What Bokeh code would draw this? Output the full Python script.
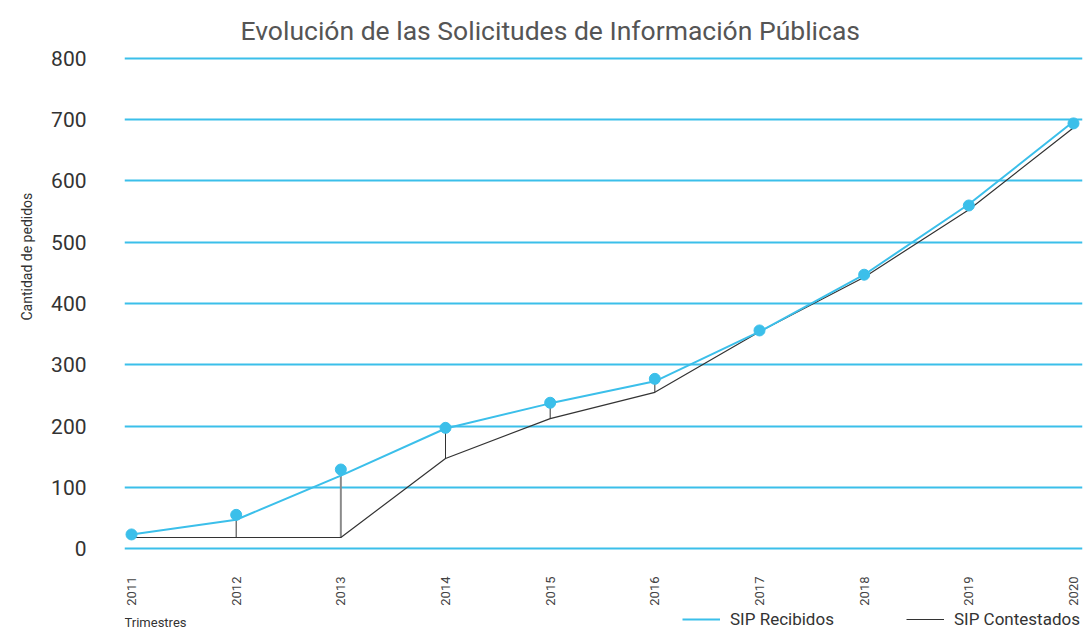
import math
from bokeh.plotting import figure
from bokeh.layouts import column
from bokeh.models import (ColumnDataSource, Range1d, FixedTicker, Title, Legend, LegendItem, Label)
from bokeh.embed import file_html
from bokeh.resources import INLINE

# ---- data ----
anios = ["2011", "2012", "2013", "2014", "2015", "2016", "2017", "2018", "2019", "2020"]
sip_recibidos = [23, 47, 119, 196, 237, 273, 354, 447, 562, 697]
sip_recibidos_puntos = [23, 55, 129, 197, 238, 277, 356, 447, 560, 694]
sip_contestados = [18, 18, 18, 147, 212, 255, 354, 443, 553, 687]
ticks_y = [0, 100, 200, 300, 400, 500, 600, 700, 800]

titulo = "Evolución de las Solicitudes de Información Públicas"
etiqueta_y = "Cantidad de pedidos"
etiqueta_x = "Trimestres"
series = ["SIP Recibidos", "SIP Contestados"]

# ---- styles ----
FONT = "Roboto"
BLUE = "#3bbfea"
DARK = "#333333"

idx = list(range(len(anios)))
src = ColumnDataSource(dict(x=idx, rec=sip_recibidos, recp=sip_recibidos_puntos,
                            con=sip_contestados,
                            seg_color=[DARK, DARK, "#8a8a8a", DARK, DARK, DARK, DARK, DARK, DARK, DARK],
                            seg_w=[1, 1, 2, 1, 1, 1, 1, 1, 1, 1]))

p = figure(width=1089, height=609, output_backend="svg", toolbar_location=None,
           x_range=Range1d(-0.067, 9.086), y_range=Range1d(-13, 813),
           min_border_left=124, min_border_right=7, min_border_top=50, min_border_bottom=53)
p.outline_line_color = None
p.background_fill_color = "white"
p.border_fill_color = "white"

p.title.text = titulo
p.title.align = "left"
p.title.offset = 116
p.title.text_font = FONT
p.title.text_font_size = "26.5px"
p.title.text_font_style = "normal"
p.title.text_color = "#555555"
p.title.standoff = 10

# axes
p.xaxis.ticker = FixedTicker(ticks=idx)
p.xaxis.major_label_overrides = {i: a for i, a in zip(idx, anios)}
p.xaxis.major_label_orientation = math.pi / 2
p.xaxis.axis_line_color = None
p.xaxis.major_tick_line_color = None
p.xaxis.minor_tick_line_color = None
p.xaxis.major_label_text_font = FONT
p.xaxis.major_label_text_font_size = "13px"
p.xaxis.major_label_text_color = "#444444"
p.xaxis.major_label_standoff = 14

p.yaxis.ticker = FixedTicker(ticks=ticks_y)
p.yaxis.axis_line_color = None
p.yaxis.major_tick_line_color = None
p.yaxis.minor_tick_line_color = None
p.yaxis.major_label_text_font = FONT
p.yaxis.major_label_text_font_size = "21px"
p.yaxis.major_label_text_color = "#333333"
p.yaxis.major_label_standoff = 32

p.xgrid.grid_line_color = None
p.ygrid.grid_line_color = BLUE
p.ygrid.grid_line_width = 2

# y label as side title
p.add_layout(Title(text=etiqueta_y, align="left", offset=236, standoff=28,
                   text_font=FONT, text_font_size="14px", text_font_style="normal",
                   text_color="#333333"), "left")

# drop lines
p.segment(x0="x", y0="rec", x1="x", y1="con", source=src,
          line_color="seg_color", line_width="seg_w")

# series
p.line("x", "con", source=src, line_color=DARK, line_width=1.2)
p.line("x", "rec", source=src, line_color=BLUE, line_width=2)
p.scatter("x", "recp", source=src, size=11, fill_color=BLUE, line_color=BLUE)

# bottom strip: x label and legend (frame aligned with the main plot)
p2 = figure(width=1089, height=20, output_backend="svg", toolbar_location=None,
            x_range=Range1d(0, 1), y_range=Range1d(0, 1),
            min_border_left=124, min_border_right=7, min_border_top=0, min_border_bottom=0)
p2.axis.visible = False
p2.grid.visible = False
p2.outline_line_color = None
p2.border_fill_color = "white"
p2.background_fill_color = "white"

p2.add_layout(Label(x=0, y=7, x_units="screen", y_units="screen", text=etiqueta_x,
                    text_font=FONT, text_font_size="13px",
                    text_color="#333333", text_align="left", text_baseline="middle"))

lr = p2.line(x=[-5, -4], y=[-5, -5], line_color=BLUE, line_width=2)
lc = p2.line(x=[-5, -4], y=[-5, -5], line_color=DARK, line_width=1.2)
leg = Legend(items=[LegendItem(label=series[0], renderers=[lr]),
                    LegendItem(label=series[1], renderers=[lc])],
             orientation="horizontal", location=(558, 0),
             glyph_width=38, glyph_height=14, label_height=16, label_standoff=10, spacing=72,
             padding=0, margin=0, border_line_color=None, background_fill_alpha=0,
             label_text_font=FONT, label_text_font_size="17px", label_text_color="#333333")
p2.add_layout(leg, "center")

open("out.html", "w").write(file_html(column(p, p2, spacing=0), INLINE))
